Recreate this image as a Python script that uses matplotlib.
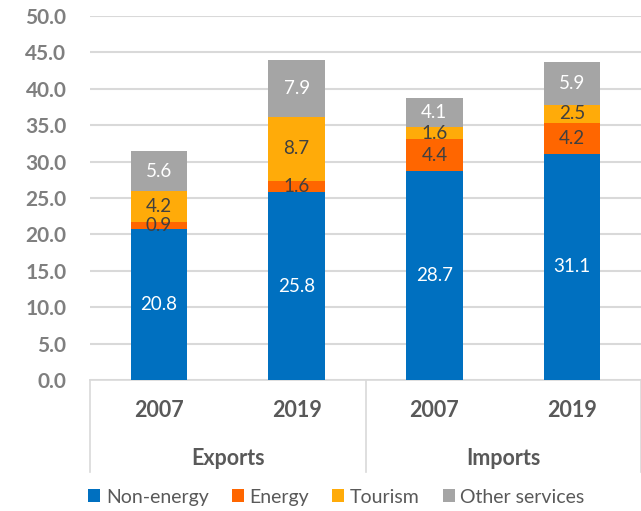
import numpy as np
import matplotlib.pyplot as plt
from matplotlib.transforms import blended_transform_factory

years = ["2007", "2019", "2007", "2019"]
groups = ["Exports", "Imports"]
series = ["Non-energy", "Energy", "Tourism", "Other services"]
non_energy = [20.8, 25.8, 28.7, 31.1]
energy = [0.9, 1.6, 4.4, 4.2]
tourism = [4.2, 8.7, 1.6, 2.5]
other = [5.6, 7.9, 4.1, 5.9]

colors = ["#0070C0", "#FF6600", "#FFAB09", "#A5A5A5"]
label_colors = ["white", "#404040", "#404040", "white"]


def main():
    plt.rcParams['font.family'] = ['Lato', 'DejaVu Sans']
    W, H = 641, 511
    fig = plt.figure(figsize=(W / 100, H / 100), dpi=100)
    ax = fig.add_axes([90 / W, (H - 380) / H, 551 / W, 364 / H])

    x_pos = np.arange(len(years)) + 0.5
    width = 0.41
    bottom = np.zeros(len(years))
    for name, vals, c, lc in zip(series, [non_energy, energy, tourism, other], colors, label_colors):
        vals = np.array(vals)
        ax.bar(x_pos, vals, width, bottom=bottom, color=c, label=name, zorder=3)
        for xi, b, v in zip(x_pos, bottom, vals):
            ax.text(xi, b + v / 2, f"{v:.1f}", ha="center", va="center",
                    color=lc, fontsize=13.5, zorder=4)
        bottom += vals

    ax.set_xlim(0, 4)
    ax.set_ylim(0, 50)
    ax.set_yticks(np.arange(0, 51, 5))
    ax.set_yticklabels([f"{v:.1f}" for v in np.arange(0, 51, 5)],
                       fontsize=15, fontweight="bold", color="#7F7F7F")
    ax.tick_params(axis="y", length=0, pad=17)
    ax.set_xticks([])
    ax.yaxis.grid(True, color="#D9D9D9", linewidth=1.5, zorder=0)
    for s in ["top", "right", "left"]:
        ax.spines[s].set_visible(False)
    ax.spines["bottom"].set_color("#D9D9D9")
    ax.spines["bottom"].set_linewidth(1.2)

    # two-level category axis
    tr = blended_transform_factory(ax.transData, fig.transFigure)
    y_top = (H - 380) / H
    y_bot = (H - 472) / H
    for xv in [0, 2, 4]:
        ax.plot([xv, xv], [y_top, y_bot], transform=tr, color="#D9D9D9",
                linewidth=1.2, clip_on=False)
    for xi, yr in zip(x_pos, years):
        ax.text(xi, (H - 410) / H, yr, transform=tr, ha="center", va="center",
                fontsize=15.5, fontweight="bold", color="#595959")
    for gi, g in enumerate(groups):
        ax.text(gi * 2 + 1, (H - 458) / H, g, transform=tr, ha="center", va="center",
                fontsize=15.5, fontweight="bold", color="#595959")

    fig.legend(loc="center", bbox_to_anchor=(0.525, (H - 497) / H), ncol=4,
               frameon=False, fontsize=14, handlelength=0.6, handleheight=0.6,
               handletextpad=0.3, columnspacing=1.2, labelcolor="#595959")

    fig.savefig("out.png", dpi=100)


if __name__ == "__main__":
    main()
